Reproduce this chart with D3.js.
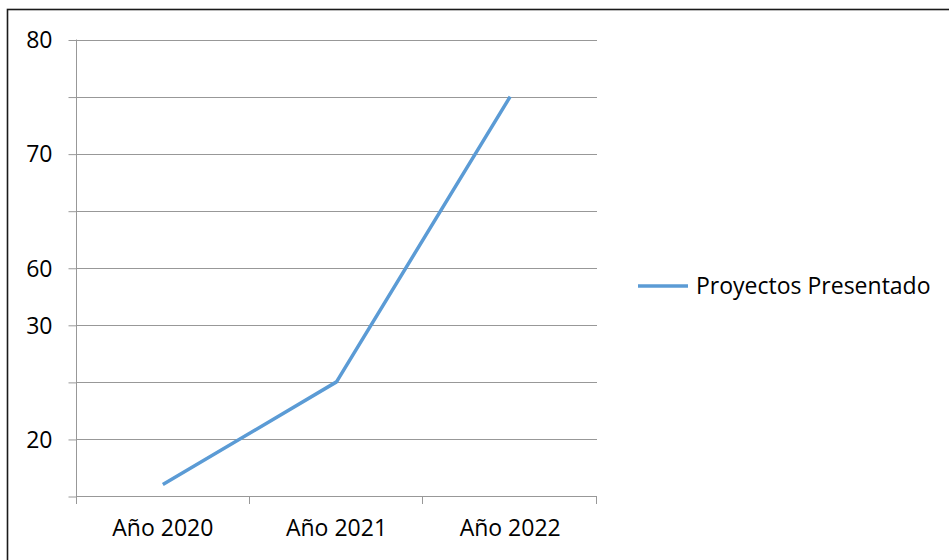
<!DOCTYPE html>
<html>
<head>
<meta charset="utf-8">
<script src="https://cdn.jsdelivr.net/npm/d3@7"></script>
<style>
  html, body { margin: 0; padding: 0; background: #fff; }
  svg { display: block; font-family: "Open Sans", sans-serif; }
</style>
</head>
<body>
<svg id="chart" width="949" height="560"></svg>
<script>
const categories = ["Año 2020", "Año 2021", "Año 2022"];
const seriesName = "Proyectos Presentado";
const values = [2, 20, 70];
const tickValues = [0, 10, 20, 30, 40, 50, 60, 70, 80];
const tickLabels = ["", "20", "", "30", "60", "", "70", "", "80"];

const svg = d3.select("#chart");
const W = 949, H = 560;

// outer chart border (extends beyond the viewport on right/bottom)
svg.append("rect")
  .attr("x", 7.5).attr("y", 9.5)
  .attr("width", W + 20).attr("height", H + 20)
  .attr("fill", "#fff").attr("stroke", "#1a1a1a").attr("stroke-width", 1.6);

const plot = { left: 76, right: 597, top: 39.5, bottom: 496 };

const x = d3.scaleBand().domain(categories).range([plot.left, plot.right]).padding(0);
const y = d3.scaleLinear().domain([0, 80]).range([plot.bottom, plot.top]);

const gridColor = "#989898";

// gridlines
svg.append("g").selectAll("line").data(tickValues.slice(1)).join("line")
  .attr("x1", plot.left).attr("x2", plot.right)
  .attr("y1", d => Math.round(y(d)) + 0.5).attr("y2", d => Math.round(y(d)) + 0.5)
  .attr("stroke", gridColor).attr("stroke-width", 1);

// y axis
const yAxis = d3.axisLeft(y).tickValues(tickValues).tickSize(8).tickPadding(16)
  .tickFormat((d, i) => tickLabels[i]);
const gy = svg.append("g").attr("transform", `translate(${plot.left + 0.5},0)`).call(yAxis);
gy.select(".domain").attr("stroke", gridColor).attr("d", `M0,${plot.top}V${plot.bottom + 8}`);
gy.selectAll(".tick line").attr("stroke", gridColor)
  .attr("transform", "translate(0,0.5)");
gy.selectAll(".tick text").attr("fill", "#000").style("font-size", "23px")
  .style("font-family", "'Open Sans', sans-serif").attr("dy", "0.36em");

// x axis
const xAxis = d3.axisBottom(x).tickSize(0).tickPadding(23);
const gx = svg.append("g").attr("transform", `translate(0,${plot.bottom + 0.5})`).call(xAxis);
gx.select(".domain").attr("stroke", gridColor).attr("d", `M${plot.left},0H${plot.right}`);
gx.selectAll(".tick text").attr("fill", "#000").style("font-size", "23px")
  .style("font-family", "'Open Sans', sans-serif");
// category boundary ticks
const boundaries = categories.map(c => x(c)).concat([x(categories[categories.length - 1]) + x.bandwidth()]);
svg.append("g").selectAll("line").data(boundaries.slice(1)).join("line")
  .attr("x1", d => Math.round(d) - 0.5).attr("x2", d => Math.round(d) - 0.5)
  .attr("y1", plot.bottom).attr("y2", plot.bottom + 8)
  .attr("stroke", gridColor).attr("stroke-width", 1);

// series line
const color = "#5b9bd5";
const line = d3.line()
  .x((d, i) => x(categories[i]) + x.bandwidth() / 2)
  .y(d => y(d));
svg.append("path").datum(values)
  .attr("d", line)
  .attr("fill", "none").attr("stroke", color).attr("stroke-width", 3.5)
  .attr("stroke-linejoin", "round").attr("stroke-linecap", "butt");

// legend
const lg = svg.append("g").attr("transform", "translate(638,286)");
lg.append("line").attr("x1", 0).attr("x2", 50).attr("y1", 0).attr("y2", 0)
  .attr("stroke", color).attr("stroke-width", 3.5);
lg.append("text").attr("x", 58).attr("y", 0).attr("dy", "0.36em")
  .style("font-size", "23px").attr("fill", "#000").text(seriesName);
</script>
</body>
</html>
